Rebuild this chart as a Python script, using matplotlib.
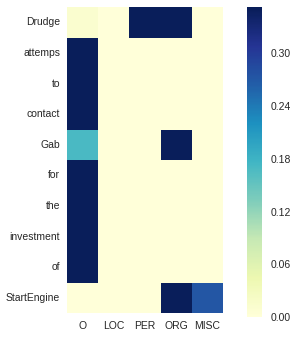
import numpy as np
import matplotlib
matplotlib.use("Agg")
import matplotlib.pyplot as plt
import seaborn as sns

# tokens (rows) and tag labels (columns)
tokens = ["Drudge", "attemps", "to", "contact", "Gab", "for", "the",
          "investment", "of", "StartEngine"]
tags = ["O", "LOC", "PER", "ORG", "MISC"]

# attention weights
col_O = [0.012, 0.350, 0.350, 0.350, 0.170, 0.350, 0.350, 0.350, 0.350, 0.000]
col_LOC = [0.000, 0.000, 0.000, 0.000, 0.001, 0.000, 0.000, 0.000, 0.000, 0.000]
col_PER = [0.350, 0.000, 0.000, 0.000, 0.001, 0.000, 0.000, 0.000, 0.000, 0.000]
col_ORG = [0.350, 0.000, 0.000, 0.000, 0.350, 0.000, 0.000, 0.000, 0.000, 0.350]
col_MISC = [0.000, 0.000, 0.000, 0.000, 0.000, 0.000, 0.000, 0.000, 0.000, 0.272]

weights = np.array([col_O, col_LOC, col_PER, col_ORG, col_MISC]).T

sns.set_style("white")
plt.rcParams["font.family"] = ["Liberation Sans", "DejaVu Sans"]

fig = plt.figure(figsize=(2.94, 3.40), dpi=100)
ax = fig.add_axes([0.228, 0.079, 0.530, 0.900])
cax = fig.add_axes([0.840, 0.067, 0.052, 0.912])

sns.heatmap(weights, ax=ax, cbar_ax=cax, cmap="YlGnBu", vmin=0, vmax=0.352,
            xticklabels=tags, yticklabels=tokens)

ax.tick_params(axis="both", length=0, labelsize=7.5, colors="#262626")
ax.tick_params(axis="x", pad=6)
ax.tick_params(axis="y", pad=5)
ax.set_yticklabels(tokens, rotation=0)
ax.set_xticklabels(tags, rotation=0)
cax.set_yticks([0.0, 0.06, 0.12, 0.18, 0.24, 0.30])
cax.set_yticklabels(["0.00", "0.06", "0.12", "0.18", "0.24", "0.30"])
cax.tick_params(length=0, labelsize=7.5, colors="#262626", pad=6)

fig.savefig("out.png", dpi=100)
